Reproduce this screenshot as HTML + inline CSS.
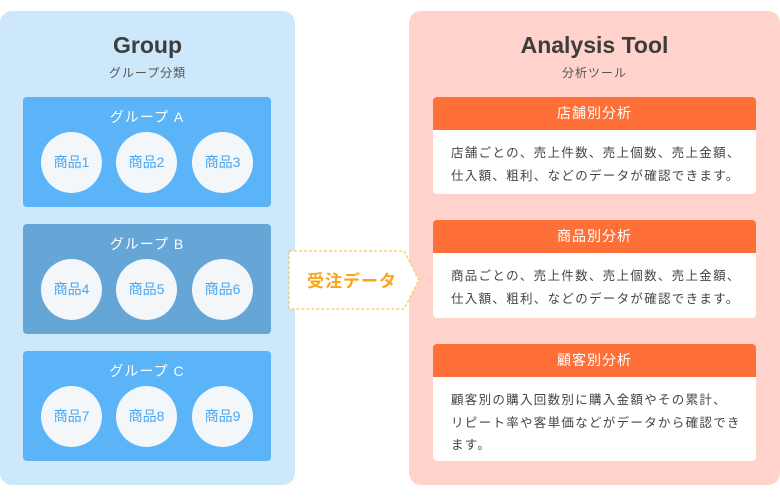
<!DOCTYPE html>
<html><head><meta charset="utf-8"><style>
*{margin:0;padding:0;box-sizing:border-box}
body{width:780px;height:500px;background:#fff;position:relative;overflow:hidden;font-family:"Liberation Sans","Noto Sans CJK JP",sans-serif}
.abs{position:absolute}
.lp{left:0;top:11px;width:295px;height:474px;background:#cde8fa;border-radius:12px}
.rp{left:409px;top:11px;width:371px;height:474px;background:#ffd2cb;border-radius:12px}
.title{font-size:23px;font-weight:bold;color:#3d3d3d;text-align:center;width:100%}
.sub{font-size:12px;color:#555;text-align:center;width:100%;letter-spacing:1px}
.grp{left:23px;width:248px;height:110px;background:#5ab4f7;border-radius:4px}
.grp .gt{position:absolute;top:10px;width:100%;text-align:center;color:#fff;font-size:14px;letter-spacing:1px}
.c{position:absolute;top:35px;width:61px;height:61px;border-radius:50%;background:#f3f7fa;color:#4aa6ee;font-size:14px;text-align:center;line-height:61px}
.card{left:433px;width:323px;background:#fff;border-radius:4px;overflow:hidden}
.card .h{background:#ff7039;color:#fff;font-size:14px;text-align:center;height:33px;line-height:33px;letter-spacing:1px}
.card .b{font-size:12.5px;color:#444;padding:12px 0 12px 18px;line-height:22.5px;letter-spacing:1.3px;width:323px;white-space:nowrap}
</style></head><body>
<div class="abs lp"></div>
<div class="abs rp"></div>
<div class="abs title" style="left:0;width:295px;top:32px">Group</div>
<div class="abs sub" style="left:0;width:295px;top:64px">グループ分類</div>
<div class="abs title" style="left:409px;width:371px;top:32px">Analysis Tool</div>
<div class="abs sub" style="left:409px;width:371px;top:64px">分析ツール</div>

<div class="abs grp" style="top:97px"><div class="gt">グループ A</div>
<div class="c" style="left:18px">商品1</div><div class="c" style="left:93px">商品2</div><div class="c" style="left:169px">商品3</div></div>
<div class="abs grp" style="top:224px;background:#66a6d6"><div class="gt">グループ B</div>
<div class="c" style="left:18px">商品4</div><div class="c" style="left:93px">商品5</div><div class="c" style="left:169px">商品6</div></div>
<div class="abs grp" style="top:351px"><div class="gt">グループ C</div>
<div class="c" style="left:18px">商品7</div><div class="c" style="left:93px">商品8</div><div class="c" style="left:169px">商品9</div></div>

<svg class="abs" style="left:0;top:0" width="780" height="500">
<polygon points="289,251 404,251 419,280 404,309 289,309" fill="#fff" stroke="#fcc85e" stroke-width="1.3" stroke-dasharray="3,2"/>
<text x="352" y="287" text-anchor="middle" font-size="17" font-weight="bold" fill="#f9a51a" font-family="Liberation Sans,Noto Sans CJK JP,sans-serif" letter-spacing="1">受注データ</text>
</svg>

<div class="abs card" style="top:97px;height:97px"><div class="h">店舗別分析</div><div class="b">店舗ごとの、売上件数、売上個数、売上金額、<br>仕入額、粗利、などのデータが確認できます。</div></div>
<div class="abs card" style="top:220px;height:98px"><div class="h">商品別分析</div><div class="b">商品ごとの、売上件数、売上個数、売上金額、<br>仕入額、粗利、などのデータが確認できます。</div></div>
<div class="abs card" style="top:344px;height:117px"><div class="h">顧客別分析</div><div class="b">顧客別の購入回数別に購入金額やその累計、<br>リピート率や客単価などがデータから確認でき<br>ます。</div></div>
</body></html>
